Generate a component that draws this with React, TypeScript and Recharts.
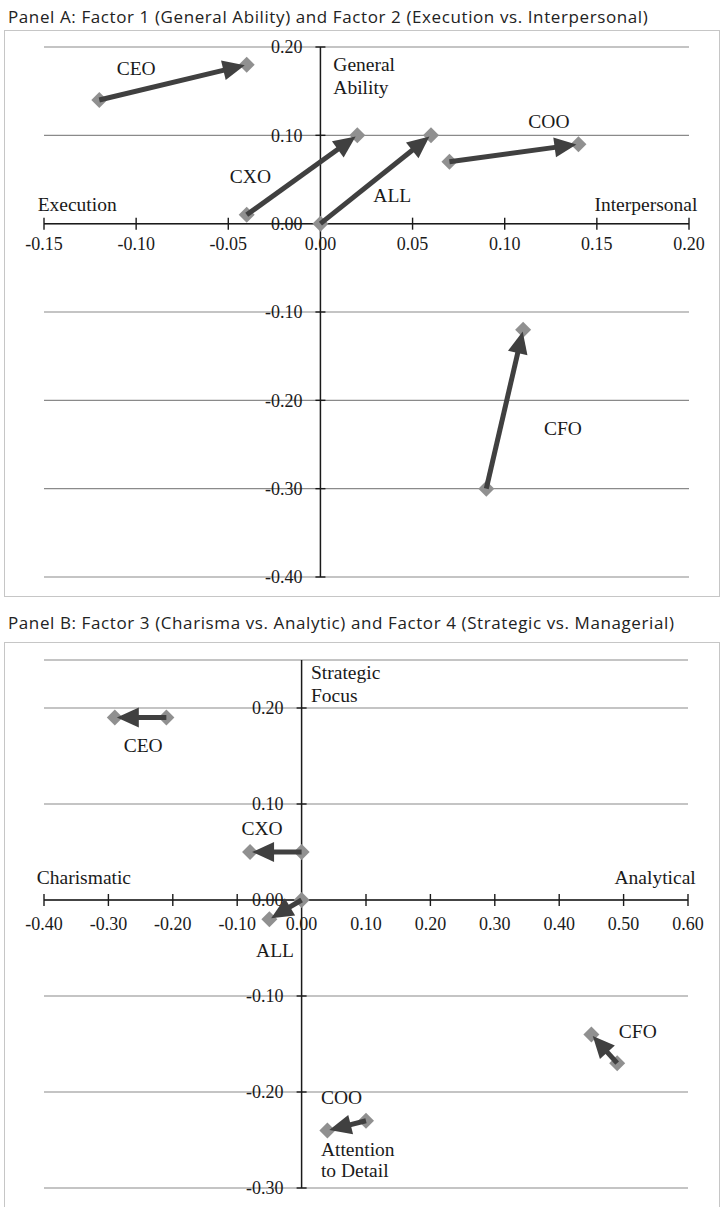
import React from 'react';
import { CartesianGrid, Scatter, ScatterChart, XAxis, YAxis } from 'recharts';

// Panel A: Factor 1 (y) vs Factor 2 (x)
const rolesA = ['CEO', 'CXO', 'ALL', 'COO', 'CFO'];
const fromXA = [-0.12, -0.04, 0.0, 0.07, 0.09];
const fromYA = [0.14, 0.01, 0.0, 0.07, -0.3];
const toXA = [-0.04, 0.02, 0.06, 0.14, 0.11];
const toYA = [0.18, 0.1, 0.1, 0.09, -0.12];
const xTicksA = [-0.15, -0.1, -0.05, 0.0, 0.05, 0.1, 0.15, 0.2];
const yTicksA = [-0.4, -0.3, -0.2, -0.1, 0.0, 0.1, 0.2];

// label texts and the data point they sit on
const notesA = [
  { text: 'CEO', x: -0.1, y: 0.176, anchor: 'middle' },
  { text: 'General', x: 0.007, y: 0.18, anchor: 'start' },
  { text: 'Ability', x: 0.007, y: 0.154, anchor: 'start' },
  { text: 'CXO', x: -0.038, y: 0.054, anchor: 'middle' },
  { text: 'Execution', x: -0.132, y: 0.022, anchor: 'middle' },
  { text: 'ALL', x: 0.039, y: 0.032, anchor: 'middle' },
  { text: 'COO', x: 0.124, y: 0.116, anchor: 'middle' },
  { text: 'Interpersonal', x: 0.1766, y: 0.022, anchor: 'middle' },
  { text: 'CFO', x: 0.1316, y: -0.231, anchor: 'middle' },
];

// Panel B: Factor 4 (y) vs Factor 3 (x)
const rolesB = ['CEO', 'CXO', 'ALL', 'CFO', 'COO'];
const fromXB = [-0.21, 0.0, 0.0, 0.49, 0.1];
const fromYB = [0.19, 0.05, 0.0, -0.17, -0.23];
const toXB = [-0.29, -0.08, -0.05, 0.45, 0.04];
const toYB = [0.19, 0.05, -0.02, -0.14, -0.24];
const xTicksB = [-0.4, -0.3, -0.2, -0.1, 0.0, 0.1, 0.2, 0.3, 0.4, 0.5, 0.6];
const yTicksB = [-0.3, -0.2, -0.1, 0.0, 0.1, 0.2];

const notesB = [
  { text: 'Strategic', x: 0.0146, y: 0.2375, anchor: 'start' },
  { text: 'Focus', x: 0.0146, y: 0.2134, anchor: 'start' },
  { text: 'CEO', x: -0.246, y: 0.161, anchor: 'middle' },
  { text: 'CXO', x: -0.0615, y: 0.0745, anchor: 'middle' },
  { text: 'Charismatic', x: -0.338, y: 0.0233, anchor: 'middle' },
  { text: 'Analytical', x: 0.549, y: 0.0233, anchor: 'middle' },
  { text: 'ALL', x: -0.0413, y: -0.052, anchor: 'middle' },
  { text: 'CFO', x: 0.522, y: -0.1366, anchor: 'middle' },
  { text: 'COO', x: 0.03, y: -0.2056, anchor: 'start' },
  { text: 'Attention', x: 0.03, y: -0.26, anchor: 'start' },
  { text: 'to Detail', x: 0.03, y: -0.2819, anchor: 'start' },
];

const SERIF = '"Liberation Serif", "Times New Roman", serif';
const INK = '#1a1a1a';
const ARROW = '#404040';
const MARKER = '#909090';

const fmt = (v: number) => (Math.abs(v) < 1e-9 ? '0.00' : v.toFixed(2));

const Empty = () => <g />;

const Diamond = (p: any) => {
  const { cx, cy } = p;
  const r = 8;
  return (
    <polygon
      points={`${cx},${cy - r} ${cx + r},${cy} ${cx},${cy + r} ${cx - r},${cy}`}
      fill={MARKER}
    />
  );
};

const ArrowLine = (p: any) => {
  const pts = p.points;
  if (!pts || pts.length < 2) return <g />;
  const a = pts[0];
  const b = pts[1];
  const dx = b.x - a.x;
  const dy = b.y - a.y;
  const len = Math.hypot(dx, dy) || 1;
  const ux = dx / len;
  const uy = dy / len;
  const tipX = b.x - ux * 2;
  const tipY = b.y - uy * 2;
  const headLen = 22;
  const headHalf = 10;
  const bx = tipX - ux * headLen;
  const by = tipY - uy * headLen;
  const nx = -uy;
  const ny = ux;
  return (
    <g>
      <line
        x1={a.x}
        y1={a.y}
        x2={bx + ux * 4}
        y2={by + uy * 4}
        stroke={ARROW}
        strokeWidth={5}
      />
      <polygon
        points={`${tipX},${tipY} ${bx + nx * headHalf},${by + ny * headHalf} ${bx - nx * headHalf},${by - ny * headHalf}`}
        fill={ARROW}
      />
    </g>
  );
};

const XTick = (p: any) => {
  const { cx, cy, payload } = p;
  return (
    <g>
      <line x1={cx} x2={cx} y1={cy - 6} y2={cy + 6} stroke={INK} strokeWidth={1.4} />
      <text
        x={cx}
        y={cy + p.gap}
        dy="0.35em"
        textAnchor="middle"
        fontFamily={SERIF}
        fontSize={18}
        fill={INK}
      >
        {fmt(payload.x)}
      </text>
    </g>
  );
};

const YTick = (p: any) => {
  const { cx, cy, payload } = p;
  return (
    <g>
      <line x1={cx - 5} x2={cx + 5} y1={cy} y2={cy} stroke={INK} strokeWidth={1.4} />
      <text
        x={cx - 18}
        y={cy}
        dy="0.35em"
        textAnchor="end"
        fontFamily={SERIF}
        fontSize={18}
        fill={INK}
      >
        {fmt(payload.y)}
      </text>
    </g>
  );
};

const Note = (p: any) => {
  const { cx, cy, payload } = p;
  return (
    <text
      x={cx}
      y={cy}
      dy="0.35em"
      textAnchor={payload.anchor}
      fontFamily={SERIF}
      fontSize={19.5}
      fill={INK}
    >
      {payload.text}
    </text>
  );
};

type PanelProps = {
  width: number;
  height: number;
  margin: { top: number; right: number; bottom: number; left: number };
  xDomain: [number, number];
  yDomain: [number, number];
  xTicks: number[];
  yTicks: number[];
  roles: string[];
  fromX: number[];
  fromY: number[];
  toX: number[];
  toY: number[];
  notes: { text: string; x: number; y: number; anchor: string }[];
  xLabelGap: number;
};

function Panel(props: PanelProps) {
  const { xDomain, yDomain, xTicks, yTicks, roles } = props;
  const pairs = roles.map((r, i) => [
    { x: props.fromX[i], y: props.fromY[i], role: r },
    { x: props.toX[i], y: props.toY[i], role: r },
  ]);
  const xTickData = xTicks.map((v) => ({ x: v, y: 0 }));
  const yTickData = yTicks.map((v) => ({ x: 0, y: v }));
  const xAxisLine = [
    { x: xDomain[0], y: 0 },
    { x: xDomain[1], y: 0 },
  ];
  const yAxisLine = [
    { x: 0, y: yDomain[0] },
    { x: 0, y: yDomain[1] },
  ];

  return (
    <ScatterChart width={props.width} height={props.height} margin={props.margin}>
      <CartesianGrid vertical={false} stroke="#8a8a8a" strokeWidth={1.2} />
      <XAxis type="number" dataKey="x" domain={xDomain} ticks={xTicks} hide />
      <YAxis type="number" dataKey="y" domain={yDomain} ticks={yTicks} hide />
      <Scatter
        data={xAxisLine}
        line={{ stroke: INK, strokeWidth: 1.5 }}
        shape={Empty}
        isAnimationActive={false}
      />
      <Scatter
        data={yAxisLine}
        line={{ stroke: INK, strokeWidth: 1.5 }}
        shape={Empty}
        isAnimationActive={false}
      />
      <Scatter
        data={xTickData}
        shape={(p: any) => <XTick {...p} gap={props.xLabelGap} />}
        isAnimationActive={false}
      />
      <Scatter data={yTickData} shape={YTick} isAnimationActive={false} />
      {pairs.map((d, i) => (
        <Scatter key={`m${i}`} data={d} shape={Diamond} isAnimationActive={false} />
      ))}
      {pairs.map((d, i) => (
        <Scatter
          key={`a${i}`}
          data={d}
          line={ArrowLine}
          shape={Empty}
          isAnimationActive={false}
        />
      ))}
      <Scatter data={props.notes} shape={Note} isAnimationActive={false} />
    </ScatterChart>
  );
}

const titleStyle: React.CSSProperties = {
  position: 'absolute',
  left: 8,
  fontFamily: '"Open Sans", "Noto Sans", sans-serif',
  fontSize: 17,
  letterSpacing: 0.6,
  lineHeight: '20px',
  color: '#222',
  whiteSpace: 'nowrap',
};

const boxStyle: React.CSSProperties = {
  position: 'absolute',
  left: 4,
  width: 716,
  boxSizing: 'border-box',
  border: '1.5px solid #c6c6c6',
  background: '#fff',
};

export default function App() {
  return (
    <div
      style={{
        position: 'absolute',
        left: 0,
        top: 0,
        width: 722,
        height: 1207,
        overflow: 'hidden',
        background: '#fff',
      }}
    >
      <div style={{ ...titleStyle, top: 7 }}>
        Panel A: Factor 1 (General Ability) and Factor 2 (Execution vs. Interpersonal)
      </div>
      <div style={{ ...boxStyle, top: 30, height: 567 }} />
      <div style={{ position: 'absolute', left: 0, top: 0 }}>
        <Panel
          width={722}
          height={600}
          margin={{ top: 47, right: 33, bottom: 23, left: 44 }}
          xDomain={[-0.15, 0.2]}
          yDomain={[-0.4, 0.2]}
          xTicks={xTicksA}
          yTicks={yTicksA}
          roles={rolesA}
          fromX={fromXA}
          fromY={fromYA}
          toX={toXA}
          toY={toYA}
          notes={notesA}
          xLabelGap={20}
        />
      </div>

      <div style={{ ...titleStyle, top: 613 }}>
        Panel B: Factor 3 (Charisma vs. Analytic) and Factor 4 (Strategic vs. Managerial)
      </div>
      <div style={{ ...boxStyle, top: 642, height: 600 }} />
      <div style={{ position: 'absolute', left: 0, top: 600 }}>
        <Panel
          width={722}
          height={607}
          margin={{ top: 60, right: 34, bottom: 19, left: 44 }}
          xDomain={[-0.4, 0.6]}
          yDomain={[-0.3, 0.25]}
          xTicks={xTicksB}
          yTicks={yTicksB}
          roles={rolesB}
          fromX={fromXB}
          fromY={fromYB}
          toX={toXB}
          toY={toYB}
          notes={notesB}
          xLabelGap={24}
        />
      </div>
    </div>
  );
}
